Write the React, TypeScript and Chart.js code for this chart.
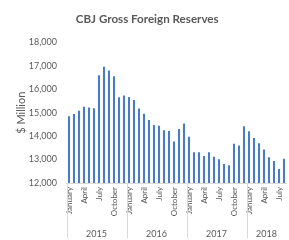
import React, { useEffect, useRef } from "react";
import { Chart, registerables } from "chart.js";

Chart.register(...registerables);

const years = ["2015", "2016", "2017", "2018"];
const monthsPerYear = [12, 12, 12, 8];
const monthNames = [
  "January", "February", "March", "April", "May", "June",
  "July", "August", "September", "October", "November", "December",
];
const shownMonths = ["January", "April", "July", "October"];

const reserves2015 = [14850, 14950, 15080, 15250, 15220, 15190, 16600, 16960, 16800, 16560, 15660, 15730];
const reserves2016 = [15670, 15540, 15180, 14960, 14690, 14480, 14440, 14250, 14220, 13770, 14310, 14540];
const reserves2017 = [13970, 13310, 13310, 13150, 13310, 13120, 13010, 12810, 12760, 13670, 13600, 14420];
const reserves2018 = [14210, 13920, 13700, 13430, 13100, 12940, 12600, 13030];

const yTicks = [12000, 13000, 14000, 15000, 16000, 17000, 18000];

const FONT = "Lato, 'Noto Sans', sans-serif";
const TEXT = "#595959";
const LINE = "#d9d9d9";

export default function App() {
  const ref = useRef<HTMLCanvasElement | null>(null);

  useEffect(() => {
    document.body.style.margin = "0";
    const canvas = ref.current;
    if (!canvas) return;

    const labels: string[] = [];
    monthsPerYear.forEach((n) => {
      for (let i = 0; i < n; i++) labels.push(monthNames[i]);
    });
    const values = [...reserves2015, ...reserves2016, ...reserves2017, ...reserves2018];

    const yearGroups = {
      id: "yearGroups",
      afterDraw(chart: any) {
        const x = chart.scales.x;
        const area = chart.chartArea;
        const ctx = chart.ctx;
        const half = (x.getPixelForValue(1) - x.getPixelForValue(0)) / 2;
        ctx.save();
        ctx.strokeStyle = LINE;
        ctx.lineWidth = 1;
        ctx.fillStyle = TEXT;
        ctx.font = `9px ${FONT}`;
        ctx.textAlign = "center";
        ctx.textBaseline = "middle";
        let start = 0;
        years.forEach((yr, i) => {
          const n = monthsPerYear[i];
          const left = x.getPixelForValue(start) - half;
          const right = x.getPixelForValue(start + n - 1) + half;
          const lx = Math.round(left) + 0.5;
          ctx.beginPath();
          ctx.moveTo(lx, area.bottom);
          ctx.lineTo(lx, 238);
          ctx.stroke();
          ctx.fillText(yr, (left + right) / 2, 234);
          start += n;
        });
        ctx.restore();
      },
    };

    const chart = new Chart(canvas, {
      type: "bar",
      data: {
        labels,
        datasets: [
          {
            data: values,
            backgroundColor: "#4a7cc6",
            borderWidth: 0,
            barPercentage: 0.42,
            categoryPercentage: 1,
          },
        ],
      },
      plugins: [yearGroups],
      options: {
        animation: false,
        responsive: false,
        maintainAspectRatio: false,
        layout: { padding: { left: 8, right: 2.5, top: 0, bottom: 0 } },
        plugins: {
          legend: { display: false },
          tooltip: { enabled: false },
          title: {
            display: true,
            text: "CBJ Gross Foreign Reserves",
            color: TEXT,
            font: { family: FONT, size: 11.6, weight: "bold" },
            padding: { top: 12, bottom: 16.5 },
          },
        },
        scales: {
          x: {
            type: "category",
            grid: { display: false, drawTicks: false },
            border: { display: true, color: LINE, width: 1 },
            ticks: {
              autoSkip: false,
              minRotation: 90,
              maxRotation: 90,
              padding: 4,
              color: TEXT,
              font: { family: FONT, size: 8 },
              callback: function (this: any, val: any) {
                const l = this.getLabelForValue(val);
                return shownMonths.includes(l) ? l : "";
              },
            },
            afterFit(scale: any) {
              scale.height = 57;
              scale.paddingLeft = 0;
              scale.paddingRight = 0;
            },
          },
          y: {
            min: 12000,
            max: 18000,
            grid: { display: false, drawTicks: false },
            border: { display: false },
            afterBuildTicks(scale: any) {
              scale.ticks = yTicks.map((v) => ({ value: v }));
            },
            ticks: {
              padding: 9.5,
              color: TEXT,
              font: { family: FONT, size: 9 },
              callback: (v: any) => Number(v).toLocaleString("en-US"),
            },
            title: {
              display: true,
              text: "$ Million",
              color: TEXT,
              font: { family: FONT, size: 11 },
              padding: { top: 7, bottom: 0 },
            },
            afterFit(scale: any) {
              scale.width = 58.5;
            },
          },
        },
      },
    });

    return () => chart.destroy();
  }, []);

  return (
    <div style={{ width: 289, height: 240, background: "#fff" }}>
      <canvas ref={ref} width={289} height={240} style={{ width: 289, height: 240, display: "block" }} />
    </div>
  );
}
